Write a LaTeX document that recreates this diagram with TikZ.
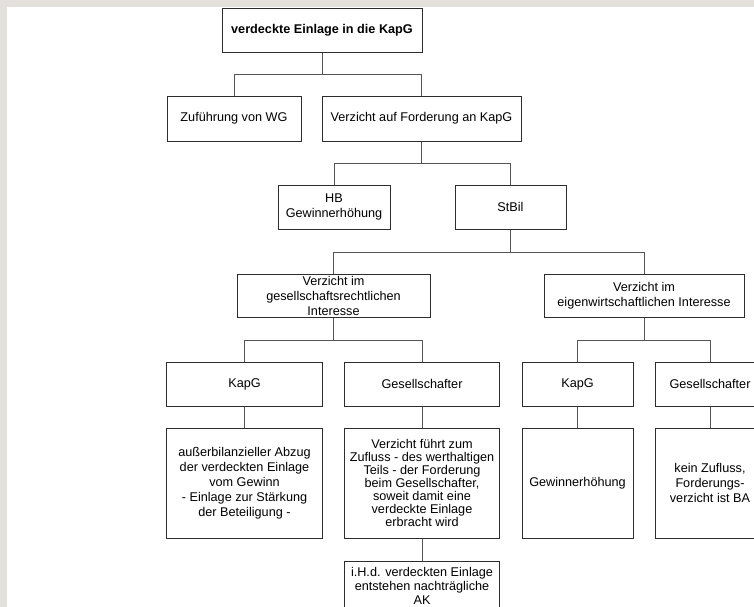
\documentclass[tikz,border=0pt]{standalone}
\usepackage{fontspec}
\setmainfont{Liberation Sans}
\usepackage{xcolor}
\definecolor{bggray}{RGB}{228,224,220}
\definecolor{boxgray}{RGB}{45,45,45}
\definecolor{linkgray}{RGB}{85,85,85}
\usepackage{tikz}
\usetikzlibrary{calc}
\newcommand{\heightrow}{33pt}
\newcommand{\heighttall}{82.5pt}
\newcommand{\widthwide}{150pt}
\newcommand{\widthmid}{116.6pt}
\newcommand{\widthsmall}{83.25pt}
\tikzset{
    common/.style={draw=boxgray, line width=0.75pt, rectangle, align=center, inner sep=1pt,
        font=\fontsize{9.5}{11.25}\selectfont},
    rowbox/.style={common, minimum height=\heightrow},
    headbox/.style={rowbox, minimum width=\widthwide, font=\bfseries\fontsize{9.5}{11.25}\selectfont},
    widebox/.style={rowbox, minimum width=\widthwide},
    midbox/.style={rowbox, minimum width=\widthmid},
    smallbox/.style={rowbox, minimum width=\widthsmall},
    tallbox/.style={common, minimum height=\heighttall},
    link/.style={linkgray, line width=0.75pt}
}

\begin{document}
\begin{tikzpicture}[x=0.75pt, y=-0.75pt]
    \useasboundingbox (0,0) rectangle (754,607);
    \clip (0,0) rectangle (754,607);
    \fill[bggray] (0,0) rectangle (754,607);
    \fill[white] (7,7) rectangle (754,607);

    \node[headbox] (einlage) at (322,30) {verdeckte Einlage in die KapG};

    \node[rowbox, minimum width=100.5pt, minimum height=33.75pt] (wg) at (234,118.5) {Zuführung von WG};
    \node[widebox, minimum width=149.25pt, minimum height=33.75pt] (verzicht) at (421.5,118.5) {Verzicht auf Forderung an KapG};

    \node[smallbox, minimum width=84pt] (hb) at (334,207) {HB\\Gewinnerhöhung};
    \node[smallbox] (stbil) at (510.5,207) {StBil};

    \node[widebox, minimum width=144.75pt, minimum height=32.25pt] (ges-interesse) at (333.5,295.5)
        {Verzicht im\\gesellschaftsrechtlichen\\Interesse};
    \node[widebox, minimum height=32.25pt] (eigen-interesse) at (644,295.5)
        {Verzicht im\\eigenwirtschaftlichen Interesse};

    \node[midbox] (kapg-left) at (244.5,384) {KapG};
    \node[midbox] (gs-left) at (422,384) {Gesellschafter};
    \node[smallbox] (kapg-right) at (577.5,384) {KapG};
    \node[smallbox, minimum width=82.5pt] (gs-right) at (710,384) {Gesellschafter};

    \node[tallbox, minimum width=\widthmid] (abzug) at (244.5,483)
        {außerbilanzieller Abzug\\der verdeckten Einlage\\vom Gewinn\\- Einlage zur Stärkung\\der Beteiligung -};
    \node[tallbox, minimum width=\widthmid, font=\fontsize{9.5}{9.75}\selectfont] (zufluss) at (422,483)
        {Verzicht führt zum\\Zufluss - des werthaltigen\\Teils - der Forderung\\beim Gesellschafter,\\soweit damit eine\\verdeckte Einlage\\erbracht wird};
    \node[tallbox, minimum width=\widthsmall] (gewinn) at (577.5,483) {Gewinnerhöhung};
    \node[tallbox, minimum width=82.5pt] (kein-zufluss) at (710,483)
        {kein Zufluss,\\Forderungs-\\verzicht ist BA};

    \node[common, minimum width=\widthmid, minimum height=37.5pt, font=\fontsize{9.5}{10.5}\selectfont] (ak) at (422,586)
        {i.H.d. verdeckten Einlage\\entstehen nachträgliche\\AK};

    \coordinate (fork-einlage) at ($(einlage.south)+(0,22)$);
    \coordinate (fork-verzicht) at ($(verzicht.south)+(0,22)$);
    \coordinate (fork-stbil) at ($(stbil.south)+(0,23)$);
    \coordinate (fork-ges) at ($(ges-interesse.south)+(0,23)$);
    \coordinate (fork-eigen) at ($(eigen-interesse.south)+(0,23)$);

    \draw[link] (einlage.south) -- (fork-einlage);
    \draw[link] (wg.north) |- (fork-einlage) -| (verzicht.north);
    \draw[link] (verzicht.south) -- (fork-verzicht);
    \draw[link] (hb.north) |- (fork-verzicht) -| (stbil.north);
    \draw[link] (stbil.south) -- (fork-stbil);
    \draw[link] (ges-interesse.north) |- (fork-stbil) -| (eigen-interesse.north);
    \draw[link] (ges-interesse.south) -- (fork-ges);
    \draw[link] (kapg-left.north) |- (fork-ges) -| (gs-left.north);
    \draw[link] (eigen-interesse.south) -- (fork-eigen);
    \draw[link] (kapg-right.north) |- (fork-eigen) -| (gs-right.north);

    \draw[link] (kapg-left) -- (abzug);
    \draw[link] (gs-left) -- (zufluss) -- (ak);
    \draw[link] (kapg-right) -- (gewinn);
    \draw[link] (gs-right) -- (kein-zufluss);
\end{tikzpicture}
\end{document}
